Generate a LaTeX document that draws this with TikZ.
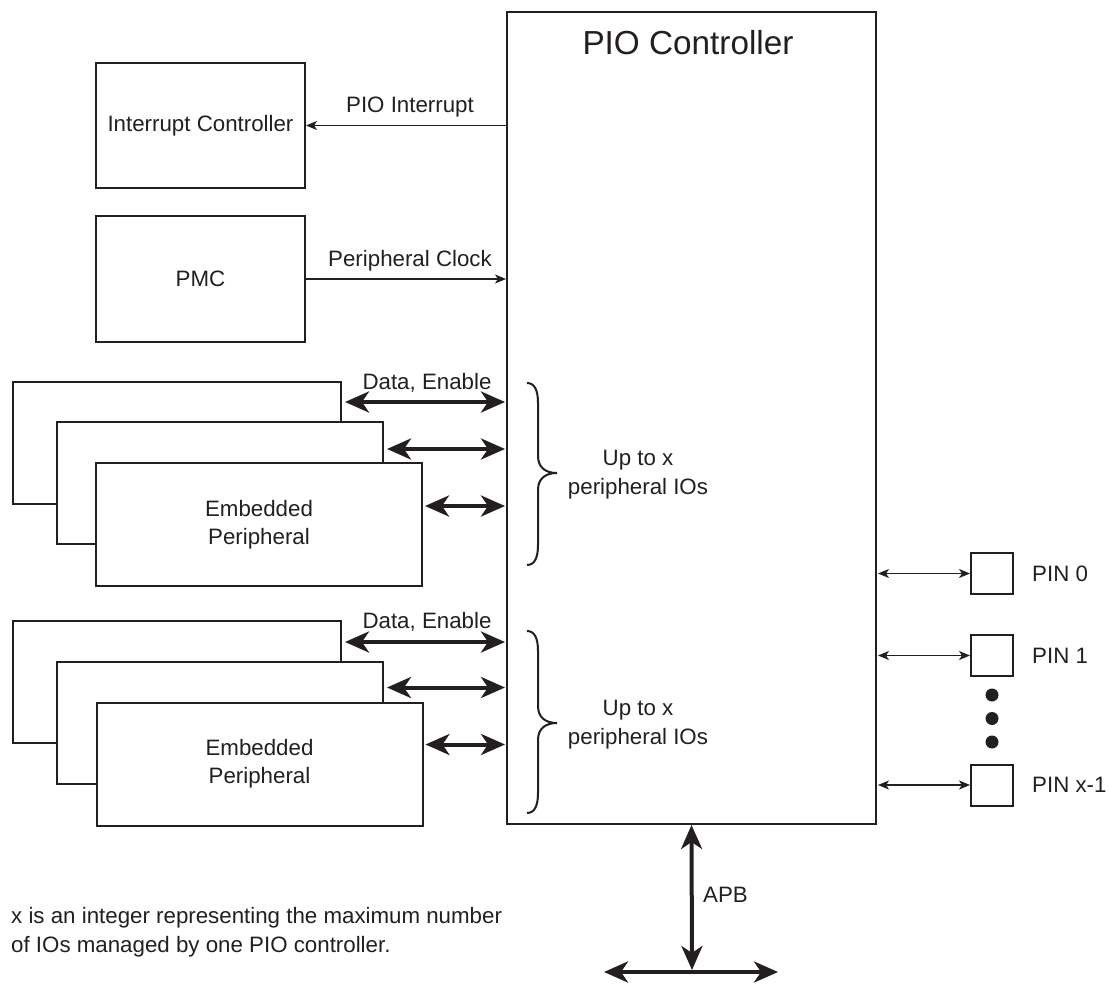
\documentclass[tikz,border=0pt]{standalone}
\usepackage{fontspec}
\setmainfont{Liberation Sans}
\usetikzlibrary{arrows.meta}
\definecolor{ink}{RGB}{35,31,32}
\newcommand\pbrace[3]{%
 \draw[brace] (527,#1) .. controls (535,#1) and (538,{#1+8}) .. (538,{#1+20})
   -- (538,{#2-17}) .. controls (538,{#2-6}) and (545,#2) .. (557,#2)
   .. controls (545,#2) and (538,{#2+6}) .. (538,{#2+17})
   -- (538,{#3-20}) .. controls (538,{#3-8}) and (535,#3) .. (527,#3);}
\begin{document}
\begin{tikzpicture}[x=1pt,y=-1pt,
  txt/.style={font=\fontsize{22.3}{29}\selectfont, text=ink, inner sep=0pt, align=center},
  box/.style={draw=ink, line width=2pt, fill=white, inner sep=0pt, text=ink,
              font=\fontsize{22.3}{28}\selectfont, align=center},
  sig/.style={draw=ink, line width=1.2pt, >={Stealth[length=11pt,width=9pt,inset=3pt]}, ->},
  bisig/.style={draw=ink, line width=1.2pt, >={Stealth[length=11pt,width=9pt,inset=3pt]}, <->},
  bus/.style={draw=ink, line width=4pt, >={Stealth[length=24pt,width=21pt,inset=7pt]}, <->},
  perA/.style={box, minimum width=328pt, minimum height=122pt},
  perB/.style={box, minimum width=326pt, minimum height=122pt},
  perC/.style={box, minimum width=326pt, minimum height=123pt},
  pinbox/.style={box, minimum width=42pt, minimum height=41pt},
  dotmark/.style={circle, fill=ink, inner sep=0pt, minimum size=13pt},
  brace/.style={draw=ink, line width=2pt}
]
\useasboundingbox (0,0) rectangle (1109,984);

% PIO controller
\node[box, minimum width=369pt, minimum height=812pt] (pio) at (691.5,418) {};
\node[txt, font=\fontsize{33.3}{40}\selectfont] (title) at (688,43) {PIO Controller};

% Interrupt controller and PMC
\node[box, minimum width=209pt, minimum height=125pt] (ic) at (200.5,125.5) {Interrupt Controller};
\node[box, minimum width=209pt, minimum height=126pt] (pmc) at (200.5,279) {PMC};
\draw[sig] (ic.east -| pio.west) -- (ic.east);
\node[txt] (lint) at (410,107) {PIO Interrupt};
\draw[sig] (pmc.east) -- (pmc.east -| pio.west);
\node[txt] (lclk) at (410,261) {Peripheral Clock};

% Embedded peripherals, group 1
\node[perA] (A1) at (177,443) {};
\node[perB] (B1) at (220,483) {};
\node[perC] (C1) at (259,524.5) {Embedded\\Peripheral};
\coordinate (e1a) at ([xshift=3pt,yshift=-21pt]A1.north east);
\coordinate (e1b) at ([xshift=3pt,yshift=-28pt]B1.north east);
\coordinate (e1c) at ([xshift=2pt,yshift=-44pt]C1.north east);
\draw[bus, shorten >=1pt] (e1a) -- (e1a -| pio.west);
\draw[bus, shorten >=1pt] (e1b) -- (e1b -| pio.west);
\draw[bus, shorten >=1pt] (e1c) -- (e1c -| pio.west);
\node[txt] (de1) at (427,383) {Data, Enable};
\pbrace{383}{473}{565}
\node[txt] (up1) at (638,475) {Up to x\\peripheral IOs};

% Embedded peripherals, group 2
\node[perA] (A2) at (177,682) {};
\node[perB] (B2) at (220,722.5) {};
\node[perC] (C2) at (259.5,764) {Embedded\\Peripheral};
\coordinate (e2a) at ([xshift=3pt,yshift=-22pt]A2.north east);
\coordinate (e2b) at ([xshift=3pt,yshift=-27pt]B2.north east);
\coordinate (e2c) at ([xshift=2pt,yshift=-43pt]C2.north east);
\draw[bus, shorten >=1pt] (e2a) -- (e2a -| pio.west);
\draw[bus, shorten >=1pt] (e2b) -- (e2b -| pio.west);
\draw[bus, shorten >=1pt] (e2c) -- (e2c -| pio.west);
\node[txt] (de2) at (427,622) {Data, Enable};
\pbrace{631}{723}{813}
\node[txt] (up2) at (638,725) {Up to x\\peripheral IOs};

% Pins
\node[pinbox] (p0) at (992,573.5) {};
\node[pinbox] (p1) at (992,655.5) {};
\node[pinbox] (px) at (992,785) {};
\draw[bisig, shorten <=1pt] (p0.west -| pio.east) -- (p0.west);
\draw[bisig, shorten <=1pt] (p1.west -| pio.east) -- (p1.west);
\draw[bisig, shorten <=1pt] (px.west -| pio.east) -- (px.west);
\node[txt, anchor=west] (l0) at (1032,574) {PIN 0};
\node[txt, anchor=west] (l1) at (1032,656) {PIN 1};
\node[txt, anchor=west] (lx) at (1032,785) {PIN x-1};
\node[dotmark] (d1) at (992,695) {};
\node[dotmark] (d2) at (992,718.5) {};
\node[dotmark] (d3) at (992,742) {};

% APB
\coordinate (apbL) at (604,972);
\coordinate (apbR) at (778,972);
\coordinate (apbM) at (692,972);
\draw[bus] (apbL) -- (apbR);
\draw[bus] (pio.south) -- ([yshift=2pt]apbM);
\node[txt, anchor=west] (apb) at (703,895) {APB};

% Note
\node[txt, anchor=west, align=left] (note) at (11,932)
  {x is an integer representing the maximum number\\of IOs managed by one PIO controller.};
\end{tikzpicture}
\end{document}
